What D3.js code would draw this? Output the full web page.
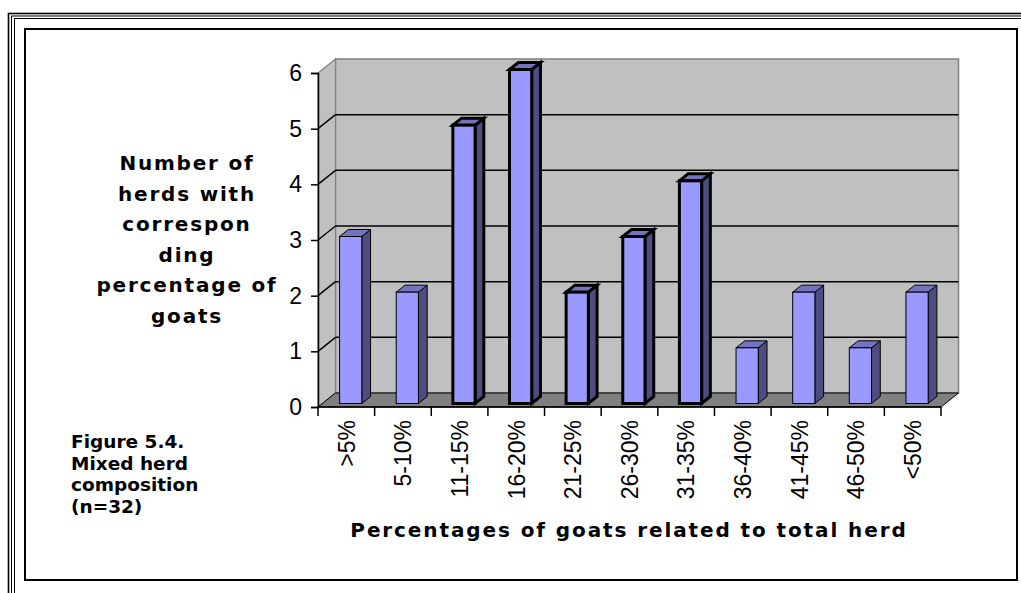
<!DOCTYPE html>
<html>
<head>
<meta charset="utf-8">
<script src="https://cdn.jsdelivr.net/npm/d3@7"></script>
<style>
  html, body { margin: 0; padding: 0; background: #fff; }
  svg { display: block; }
</style>
</head>
<body>
<svg id="chart" width="1021" height="593"></svg>
<script>
// Herd composition: how many herds fall into each goat-share class
const categories = [">5%", "5-10%", "11-15%", "16-20%", "21-25%", "26-30%", "31-35%", "36-40%", "41-45%", "46-50%", "<50%"];
const herdCounts = [3, 2, 5, 6, 2, 3, 4, 1, 2, 1, 2];
const yTickValues = [0, 1, 2, 3, 4, 5, 6];
const yTitleLines = ["Number of", "herds with", "correspon", "ding", "percentage of", "goats"];
const captionLines = ["Figure 5.4.", "Mixed herd", "composition", "(n=32)"];
const xTitle = "Percentages of goats related to total herd";

// bars drawn with a heavier outline
const heavyOutline = new Set(["11-15%", "16-20%", "21-25%", "26-30%", "31-35%"]);

const svg = d3.select("#chart");

// page frame: triple rule outside, heavy box inside
[[8.5, 13.5, 1.6], [11.5, 16, 1], [14.5, 18.5, 1]].forEach(([fx, fy, sw]) => {
  svg.append("rect").attr("x", fx).attr("y", fy)
    .attr("width", 1100).attr("height", 700)
    .attr("fill", "none").attr("stroke", "#000").attr("stroke-width", sw);
});
svg.append("rect").attr("x", 25).attr("y", 29).attr("width", 992).attr("height", 551)
  .attr("fill", "#fff").attr("stroke", "#000").attr("stroke-width", 2);

// 3-D plot box
const plotLeft = 318, plotRight = 941, plotBase = 407, plotTop = 73;
const depthX = 17.5, depthY = -14;

const x = d3.scaleBand().domain(categories).range([plotLeft, plotRight]).paddingInner(0).paddingOuter(0);
const y = d3.scaleLinear().domain([0, 6]).range([plotBase, plotTop]);
const step = x.step();
const barW = step / 2.55;

const g = svg.append("g");

// back wall
g.append("rect")
  .attr("x", plotLeft + depthX).attr("y", y(6) + depthY)
  .attr("width", plotRight - plotLeft).attr("height", y(0) - y(6))
  .attr("fill", "#c0c0c0").attr("stroke", "#808080").attr("stroke-width", 1.5);

// side wall
g.append("path")
  .attr("d", `M${plotLeft},${y(6)}L${plotLeft + depthX},${y(6) + depthY}L${plotLeft + depthX},${y(0) + depthY}L${plotLeft},${y(0)}Z`)
  .attr("fill", "#c0c0c0").attr("stroke", "#808080").attr("stroke-width", 1.2);

// floor
g.append("path")
  .attr("d", `M${plotLeft},${y(0)}L${plotLeft + depthX},${y(0) + depthY}L${plotRight + depthX},${y(0) + depthY}L${plotRight},${y(0)}Z`)
  .attr("fill", "#808080").attr("stroke", "#000").attr("stroke-width", 1);

// gridlines on back and side walls
const grid = yTickValues.filter(v => v > 0 && v < 6);
g.selectAll(".grid-back").data(grid).join("line")
  .attr("x1", plotLeft + depthX).attr("x2", plotRight + depthX)
  .attr("y1", d => y(d) + depthY).attr("y2", d => y(d) + depthY)
  .attr("stroke", "#000").attr("stroke-width", 1.5);
g.selectAll(".grid-side").data(grid).join("line")
  .attr("x1", plotLeft).attr("x2", plotLeft + depthX)
  .attr("y1", d => y(d)).attr("y2", d => y(d) + depthY)
  .attr("stroke", "#000").attr("stroke-width", 1.5);

// bars: front face sits a quarter of the way into the box, back face three quarters
const fDx = depthX * 0.25, fDy = depthY * 0.25;
const bDx = depthX * 0.5, bDy = depthY * 0.5;
const bars = categories.map((c, i) => ({ c, v: herdCounts[i] }));

const barG = g.selectAll(".bar").data(bars).join("g")
  .attr("stroke", "#000")
  .attr("stroke-linejoin", "miter")
  .attr("stroke-width", d => heavyOutline.has(d.c) ? 3 : 1);

barG.each(function (d) {
  const sel = d3.select(this);
  const cx = x(d.c) + step / 2;
  const x0 = cx - barW / 2 + fDx, x1 = cx + barW / 2 + fDx;
  const yT = y(d.v) + fDy, yB = y(0) + fDy;
  // side face
  sel.append("path")
    .attr("d", `M${x1},${yT}L${x1 + bDx},${yT + bDy}L${x1 + bDx},${yB + bDy}L${x1},${yB}Z`)
    .attr("fill", "#4d4d80");
  // top face
  sel.append("path")
    .attr("d", `M${x0},${yT}L${x0 + bDx},${yT + bDy}L${x1 + bDx},${yT + bDy}L${x1},${yT}Z`)
    .attr("fill", "#7373bf");
  // front face
  sel.append("rect")
    .attr("x", x0).attr("y", yT).attr("width", x1 - x0).attr("height", yB - yT)
    .attr("fill", "#9999ff");
});

// value axis
const yAxis = svg.append("g").attr("transform", `translate(${plotLeft},0)`)
  .call(d3.axisLeft(y).tickValues(yTickValues).tickFormat(d3.format("d")).tickSize(7).tickPadding(9));
yAxis.select(".domain").attr("stroke", "#000").attr("stroke-width", 1.5);
yAxis.selectAll(".tick line").attr("stroke", "#000").attr("stroke-width", 1.5);
yAxis.selectAll(".tick text")
  .attr("font-family", "'Liberation Sans', Arial, sans-serif")
  .attr("font-size", 23).attr("fill", "#000");

// category axis: boundary ticks plus rotated labels
const xAxis = svg.append("g").attr("transform", `translate(0,${plotBase})`)
  .call(d3.axisBottom(x).tickSize(0));
xAxis.select(".domain").remove();
xAxis.selectAll(".tick text")
  .attr("transform", "rotate(-90)")
  .attr("x", -13).attr("y", 0).attr("dy", "0.36em")
  .attr("text-anchor", "end")
  .attr("font-family", "'Liberation Sans', Arial, sans-serif")
  .attr("font-size", 23).attr("fill", "#000");
xAxis.append("line").attr("x1", plotLeft).attr("x2", plotRight).attr("y1", 0).attr("y2", 0)
  .attr("stroke", "#000").attr("stroke-width", 1.5);
const bounds = categories.map(c => x(c)).concat([plotRight]);
xAxis.selectAll(".bound").data(bounds).join("line")
  .attr("x1", d => d).attr("x2", d => d).attr("y1", 0).attr("y2", 9)
  .attr("stroke", "#000").attr("stroke-width", 1.5);

// titles
const boldFont = "'DejaVu Sans', Verdana, sans-serif";
svg.append("text")
  .attr("x", 629).attr("y", 537)
  .attr("text-anchor", "middle")
  .attr("font-family", boldFont).attr("font-weight", "bold")
  .attr("font-size", 20).attr("letter-spacing", 1.9)
  .text(xTitle);

svg.append("g").selectAll("text").data(yTitleLines).join("text")
  .attr("x", 187).attr("y", (d, i) => 170 + i * 30.5)
  .attr("text-anchor", "middle")
  .attr("font-family", boldFont).attr("font-weight", "bold")
  .attr("font-size", 20).attr("letter-spacing", 1.8)
  .text(d => d);

svg.append("g").selectAll("text").data(captionLines).join("text")
  .attr("x", 71).attr("y", (d, i) => 448 + i * 21.5)
  .attr("font-family", boldFont).attr("font-weight", "bold")
  .attr("font-size", 18.5)
  .text(d => d);
</script>
</body>
</html>
